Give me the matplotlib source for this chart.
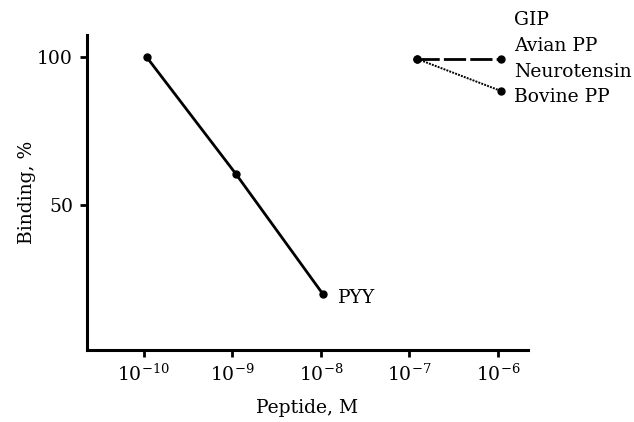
import matplotlib
matplotlib.use("Agg")
import matplotlib.pyplot as plt

plt.rcParams["font.family"] = ["DejaVu Serif"]
plt.rcParams["mathtext.fontset"] = "dejavuserif"

# PYY curve
pyy_conc = [1.08e-10, 1.1e-9, 1.05e-8]
pyy_binding = [100, 60.5, 20]

# peptides with no displacement (flat at ~100 %)
flat_labels = ["GIP", "Avian PP", "Neurotensin"]
flat_conc = [1.23e-7, 1.08e-6]
flat_binding = [99.3, 99.3]

# bovine PP
bov_conc = [1.23e-7, 1.08e-6]
bov_binding = [99.3, 88.5]

xticks = [1e-10, 1e-9, 1e-8, 1e-7, 1e-6]
xtick_labels = [r"$\mathregular{10^{-10}}$", r"$\mathregular{10^{-9}}$",
                r"$\mathregular{10^{-8}}$", r"$\mathregular{10^{-7}}$",
                r"$\mathregular{10^{-6}}$"]
yticks = [50, 100]

fs = 13.5

fig = plt.figure(figsize=(6.34, 4.22), dpi=100)
ax = fig.add_axes([0.137, 0.1706, 0.696, 0.7464])

ax.plot(pyy_conc, pyy_binding, color="black", lw=2.0, marker="o", ms=5)
ax.plot(flat_conc, flat_binding, color="black", lw=2.0, ls=(0, (8, 1.5)),
        marker="o", ms=5)
ax.plot(bov_conc, bov_binding, color="black", lw=1.4, ls=(0, (1, 0.6)),
        marker="o", ms=5)

ax.set_xscale("log")
ax.set_xlim(10 ** -10.64, 10 ** -5.66)
ax.set_ylim(1, 107.4)
ax.set_xticks(xticks)
ax.set_xticklabels(xtick_labels)
ax.minorticks_off()
ax.set_yticks(yticks)

for s in ["top", "right"]:
    ax.spines[s].set_visible(False)
for s in ["left", "bottom"]:
    ax.spines[s].set_linewidth(2.2)

ax.tick_params(axis="both", direction="out", length=5, width=2, labelsize=fs, pad=5)

ax.set_xlabel("Peptide, M", fontsize=fs, labelpad=10)
ax.set_ylabel("Binding, %", fontsize=fs, labelpad=1)

# labels
ax.text(10 ** -7.81, 16.9, "PYY", fontsize=fs, va="baseline", ha="left")
legend_text = flat_labels + ["Bovine PP"]
label_y = [110.8, 102.0, 93.2, 84.8]
for txt, yy in zip(legend_text, label_y):
    ax.text(10 ** -5.82, yy, txt, fontsize=fs, va="baseline", ha="left",
            clip_on=False)

fig.savefig("out.png", dpi=100)
